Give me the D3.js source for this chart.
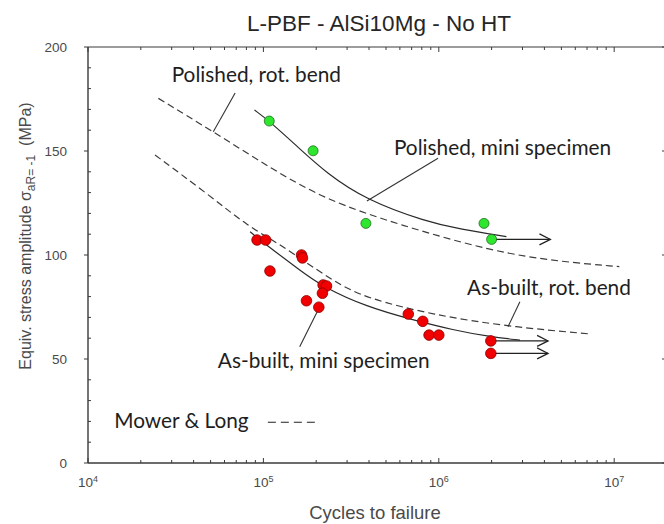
<!DOCTYPE html>
<html>
<head>
<meta charset="utf-8">
<script src="https://cdn.jsdelivr.net/npm/d3@7"></script>
<style>
  body { margin: 0; background: #fff; }
  .axis-text { font-family: "Liberation Sans", Arial, sans-serif; fill: #4a4a4a; }
  .note { font-family: Lato, "Open Sans", sans-serif; fill: #1e1e1e; }
</style>
</head>
<body>
<div id="chart"></div>
<script>
// measured points [cycles, stress amplitude MPa]
const polishedMini = [[1.08e5, 164.4], [1.92e5, 150.1], [3.84e5, 115.2], [1.81e6, 115.2], [2.0e6, 107.5]];
const asBuiltMini = [
    [9.2e4, 107.2], [1.03e5, 107.2], [1.65e5, 100], [1.67e5, 98.6], [1.09e5, 92.3],
    [2.19e5, 85.6], [2.29e5, 85.1], [2.17e5, 81.6], [1.76e5, 78.0], [2.07e5, 74.9],
    [6.7e5, 71.6], [8.1e5, 68.1], [8.8e5, 61.5], [1.0e6, 61.5], [1.98e6, 58.7], [1.98e6, 52.7]
];

// fitted curves (solid) and Mower & Long curves (dashed)
const polishedMiniFit = [[8.9e4, 169.7], [1.08e5, 164.4], [1.55e5, 152.4], [2.29e5, 139.3], [3.87e5, 126.4], [8.5e5, 116], [1.32e6, 112.4], [2.43e6, 108.8]];
const asBuiltMiniFit = [[8.4e4, 111.2], [1.04e5, 104.8], [1.61e5, 92.8], [2.19e5, 84.6], [3.87e5, 75.1], [7.1e5, 68.8], [1.21e6, 63.9], [1.95e6, 60.7], [2.9e6, 59.1]];
const polishedRotBend = [[2.52e4, 175.3], [5.18e4, 159.3], [1.14e5, 140.9], [2.29e5, 126.4], [6.0e5, 114.4], [2.04e6, 101.6], [4.9e6, 96.8], [1.07e7, 94.4]];
const asBuiltRotBend = [[2.41e4, 148.1], [4.75e4, 129.7], [8.4e4, 113], [1.19e5, 106.4], [2.5e5, 87.2], [3.87e5, 79.2], [9.3e5, 71.2], [2.48e6, 65.6], [7.4e6, 62]];

// run-outs: [start cycles, stress, arrow tip cycles]
const runouts = [[2.0e6, 107.5, 4.33e6], [1.98e6, 58.7, 4.2e6], [1.98e6, 52.7, 4.2e6]];

const xTickExps = [4, 5, 6, 7];
const yTicks = [0, 50, 100, 150, 200];

// annotation text [label, cycles, stress] and leader lines [[N1,S1],[N2,S2]]
const noteLabels = [
    ["Polished, rot. bend", 3.0e4, 183.2],
    ["Polished, mini specimen", 5.55e5, 148.1],
    ["As-built, rot. bend", 1.45e6, 80.8],
    ["As-built, mini specimen", 5.5e4, 45.5],
    ["Mower & Long", 1.41e4, 16.7]
];
const leaders = [
    [[6.9e4, 177.9], [5.18e4, 159.3]],
    [[9.9e5, 146.5], [3.89e5, 126]],
    [[2.9e6, 77.5], [2.48e6, 65.5]],
    [[1.61e5, 55.9], [2.05e5, 73.6]]
];
const legendDash = [[1.06e5, 19.6], [1.99e5, 19.6]];

const width = 664, height = 524;
const margin = {top: 47, right: -3, bottom: 61, left: 88};

const svg = d3.select("#chart").append("svg")
    .attr("width", width)
    .attr("height", height)
    .style("background", "#fff");

const x = d3.scaleLog()
    .domain([1e4, 2e7])
    .range([margin.left, width - margin.right]);

const y = d3.scaleLinear()
    .domain([0, 200])
    .range([height - margin.bottom, margin.top]);

const x0 = x.range()[0], x1 = x.range()[1];
const y0 = y.range()[0], y1 = y.range()[1];

// frame
const frame = svg.append("g").attr("stroke", "#3a3a3a").attr("fill", "none");
frame.append("line").attr("x1", x0).attr("x2", x1).attr("y1", y0).attr("y2", y0).attr("stroke-width", 1.4);
frame.append("line").attr("x1", x0).attr("x2", x1).attr("y1", y1).attr("y2", y1).attr("stroke-width", 1.2);
frame.append("line").attr("x1", x0).attr("x2", x0).attr("y1", y0).attr("y2", y1).attr("stroke-width", 1.4);
frame.append("line").attr("x1", x1).attr("x2", x1).attr("y1", y0).attr("y2", y1).attr("stroke-width", 1.2);

// log ticks on bottom and top
let xMinor = [];
for (let e = 4; e < 8; e++) {
    for (let m = 1; m < 10; m++) {
        let v = m * Math.pow(10, e);
        if (v <= 2e7) xMinor.push({v: v, major: m === 1});
    }
}
frame.selectAll(".xt").data(xMinor).enter().append("line")
    .attr("x1", d => x(d.v)).attr("x2", d => x(d.v))
    .attr("y1", y0)
    .attr("y2", d => y0 - (d.major ? 5 : 3))
    .attr("stroke-width", 1);
frame.selectAll(".xtt").data(xMinor).enter().append("line")
    .attr("x1", d => x(d.v)).attr("x2", d => x(d.v))
    .attr("y1", y1)
    .attr("y2", d => y1 + (d.major ? 5 : 3))
    .attr("stroke-width", 1);

// y ticks
let yMinor = d3.range(0, 201, 10);
frame.selectAll(".yt").data(yMinor).enter().append("line")
    .attr("x1", d => d % 50 === 0 ? x0 - 4 : x0)
    .attr("x2", d => d % 50 === 0 ? x0 : x0 + 3)
    .attr("y1", d => y(d)).attr("y2", d => y(d))
    .attr("stroke-width", 1);
frame.selectAll(".ytr").data(yMinor).enter().append("line")
    .attr("x1", x1)
    .attr("x2", d => x1 - (d % 50 === 0 ? 5 : 3))
    .attr("y1", d => y(d)).attr("y2", d => y(d))
    .attr("stroke-width", 1);

// tick labels
svg.selectAll(".ylab").data(yTicks).enter().append("text")
    .attr("class", "axis-text")
    .attr("x", x0 - 21)
    .attr("y", d => y(d))
    .attr("dy", "0.36em")
    .attr("text-anchor", "end")
    .style("font-size", "13.5px")
    .text(d => d);

let xl = svg.selectAll(".xlab").data(xTickExps).enter().append("text")
    .attr("class", "axis-text")
    .attr("x", d => x(Math.pow(10, d)))
    .attr("y", y0 + 24)
    .attr("text-anchor", "middle")
    .style("font-size", "13.5px");
xl.append("tspan").text("10");
xl.append("tspan").attr("dy", -5).style("font-size", "9px").text(d => d);

// axis titles
svg.append("text")
    .attr("class", "axis-text")
    .attr("x", 375).attr("y", 519)
    .attr("text-anchor", "middle")
    .style("font-size", "18.5px")
    .text("Cycles to failure");

let yt = svg.append("text")
    .attr("class", "axis-text")
    .attr("transform", "translate(31,236) rotate(-90)")
    .attr("text-anchor", "middle")
    .style("font-size", "16px");
yt.append("tspan").text("Equiv. stress amplitude σ");
yt.append("tspan").attr("dy", 4).style("font-size", "12px").text("aR= -1");
yt.append("tspan").attr("dy", -4).text("\u00a0\u00a0(MPa)");

svg.append("text")
    .attr("x", 379).attr("y", 31)
    .attr("text-anchor", "middle")
    .style("font-family", "'Liberation Sans', Arial, sans-serif")
    .style("font-size", "22.5px")
    .style("fill", "#262626")
    .text("L-PBF - AlSi10Mg - No HT");

// curves
const line = d3.line()
    .x(d => x(d[0]))
    .y(d => y(d[1]))
    .curve(d3.curveBasis);

svg.selectAll(".dash").data([polishedRotBend, asBuiltRotBend]).enter().append("path")
    .attr("d", line)
    .attr("fill", "none")
    .attr("stroke", "#3c3c3c")
    .attr("stroke-width", 1.2)
    .attr("stroke-dasharray", "7,4");

svg.selectAll(".fit").data([polishedMiniFit, asBuiltMiniFit]).enter().append("path")
    .attr("d", line)
    .attr("fill", "none")
    .attr("stroke", "#2a2a2a")
    .attr("stroke-width", 1.2);

// run-out arrows
const ro = svg.selectAll(".runout").data(runouts).enter().append("g")
    .attr("stroke", "#222").attr("fill", "none").attr("stroke-width", 1.2);
ro.append("line")
    .attr("x1", d => x(d[0])).attr("x2", d => x(d[2]))
    .attr("y1", d => y(d[1])).attr("y2", d => y(d[1]));
ro.append("path")
    .attr("d", d => {
        let tx = x(d[2]), ty = y(d[1]);
        return `M${tx - 11},${ty - 5.5}L${tx},${ty}L${tx - 11},${ty + 5.5}`;
    });

// leaders
svg.selectAll(".leader").data(leaders).enter().append("line")
    .attr("x1", d => x(d[0][0])).attr("y1", d => y(d[0][1]))
    .attr("x2", d => x(d[1][0])).attr("y2", d => y(d[1][1]))
    .attr("stroke", "#333").attr("stroke-width", 1.1);

svg.append("line")
    .attr("x1", x(legendDash[0][0])).attr("x2", x(legendDash[1][0]))
    .attr("y1", y(legendDash[0][1])).attr("y2", y(legendDash[1][1]))
    .attr("stroke", "#222").attr("stroke-width", 1.2)
    .attr("stroke-dasharray", "8,5");

// points
svg.selectAll(".green").data(polishedMini).enter().append("circle")
    .attr("cx", d => x(d[0])).attr("cy", d => y(d[1]))
    .attr("r", 5)
    .attr("fill", "#2ee62e").attr("stroke", "#1f6f1f").attr("stroke-width", 0.8);

svg.selectAll(".red").data(asBuiltMini).enter().append("circle")
    .attr("cx", d => x(d[0])).attr("cy", d => y(d[1]))
    .attr("r", 5.3)
    .attr("fill", "#f00000").attr("stroke", "#8a0000").attr("stroke-width", 0.8);

// annotation text
svg.selectAll(".note").data(noteLabels).enter().append("text")
    .attr("class", "note")
    .attr("x", d => x(d[1])).attr("y", d => y(d[2]))
    .style("font-size", "20.8px")
    .text(d => d[0]);
</script>
</body>
</html>
